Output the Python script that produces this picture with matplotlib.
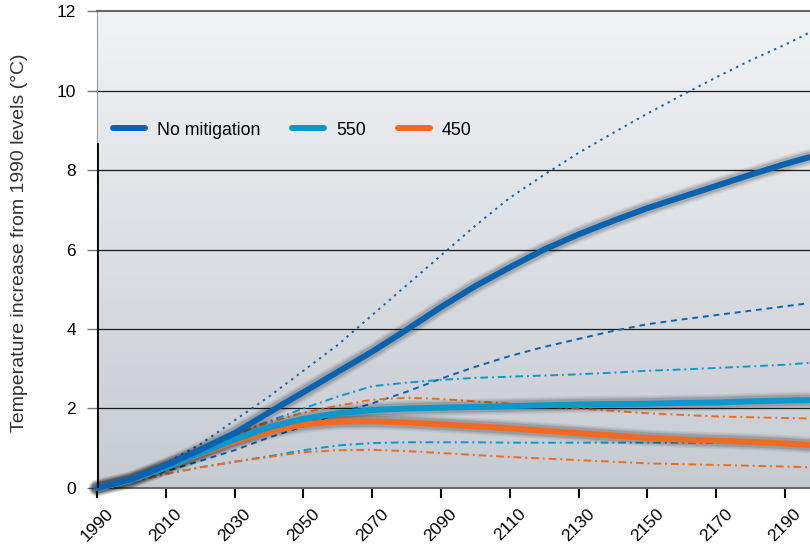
import matplotlib.pyplot as plt
import numpy as np
from matplotlib.colors import LinearSegmentedColormap

plt.rcParams['font.family'] = ['Liberation Sans', 'DejaVu Sans']

years = [1990, 2000, 2010, 2020, 2030, 2040, 2050, 2060, 2070, 2080, 2090,
         2100, 2110, 2120, 2130, 2140, 2150, 2160, 2170, 2180, 2190, 2197]

# No mitigation: central and range
nomit = [0, 0.22, 0.57, 0.96, 1.38, 1.9, 2.41, 2.92, 3.43, 3.98, 4.55,
         5.08, 5.55, 6.0, 6.38, 6.72, 7.04, 7.32, 7.6, 7.88, 8.15, 8.32]
nomit_hi = [0, 0.25, 0.62, 1.1, 1.7, 2.3, 2.95, 3.6, 4.35, 5.1, 5.85,
            6.6, 7.3, 7.88, 8.43, 8.93, 9.42, 9.88, 10.33, 10.76, 11.15, 11.45]
nomit_lo = [0, 0.18, 0.42, 0.68, 0.95, 1.27, 1.55, 1.87, 2.13, 2.42, 2.75,
            3.05, 3.32, 3.55, 3.75, 3.95, 4.12, 4.24, 4.35, 4.46, 4.57, 4.65]

# 550 ppm stabilisation
s550 = [0, 0.2, 0.52, 0.88, 1.22, 1.53, 1.74, 1.88, 1.96, 2.0, 2.02,
        2.04, 2.06, 2.08, 2.1, 2.11, 2.12, 2.14, 2.15, 2.18, 2.2, 2.21]
s550_hi = [0, 0.2, 0.55, 0.95, 1.35, 1.68, 2.0, 2.3, 2.56, 2.65, 2.72,
           2.77, 2.8, 2.83, 2.86, 2.9, 2.95, 2.98, 3.02, 3.06, 3.1, 3.15]
s550_lo = [0, 0.15, 0.35, 0.52, 0.66, 0.8, 0.95, 1.07, 1.13, 1.15, 1.15,
           1.15, 1.14, 1.14, 1.14, 1.14, 1.14, 1.14, 1.13, 1.13, 1.13, 1.13]

# 450 ppm stabilisation
s450 = [0, 0.2, 0.52, 0.86, 1.17, 1.42, 1.6, 1.67, 1.68, 1.65, 1.6,
        1.55, 1.5, 1.44, 1.38, 1.32, 1.26, 1.22, 1.19, 1.16, 1.12, 1.08]
s450_hi = [0, 0.2, 0.55, 0.95, 1.35, 1.65, 1.9, 2.07, 2.22, 2.27, 2.24,
           2.18, 2.12, 2.05, 2.0, 1.94, 1.88, 1.84, 1.8, 1.78, 1.76, 1.75]
s450_lo = [0, 0.15, 0.35, 0.52, 0.66, 0.78, 0.9, 0.95, 0.96, 0.93, 0.88,
           0.83, 0.78, 0.74, 0.7, 0.66, 0.62, 0.6, 0.58, 0.56, 0.54, 0.52]

dark_blue = '#0a63b0'
light_blue = '#0b98cc'
orange = '#f06a22'

fig = plt.figure(figsize=(8.1, 5.45), dpi=100)
ax = fig.add_axes([0.1198, 0.1046, 0.8802, 0.8752])

# grey gradient background
grad = np.linspace(0, 1, 256).reshape(-1, 1)
bg = LinearSegmentedColormap.from_list('bg', ['#c6cbd2', '#f1f2f4'])
ax.imshow(grad, extent=[1990, 2197.3, 0, 12], origin='lower', aspect='auto',
          cmap=bg, zorder=0)

for yv in [2, 4, 6, 8, 10]:
    ax.axhline(yv, color='#1a1a1a', lw=0.9, zorder=1)

# range lines
ax.plot(years, nomit_hi, color=dark_blue, lw=1.4, ls=(0, (1.2, 2.4)), zorder=3)
ax.plot(years, nomit_lo, color=dark_blue, lw=1.4, ls=(0, (3, 2.5)), zorder=3)
ax.plot(years, s550_hi, color=light_blue, lw=1.4, ls=(0, (4, 2, 1, 2)), zorder=3)
ax.plot(years, s550_lo, color=light_blue, lw=1.4, ls=(0, (4, 2, 1, 2)), zorder=3)
ax.plot(years, s450_hi, color=orange, lw=1.4, ls=(0, (4, 2, 1, 2)), zorder=3)
ax.plot(years, s450_lo, color=orange, lw=1.4, ls=(0, (4, 2, 1, 2)), zorder=3)


def thick(y, color, label):
    # soft shadow under the main line
    for w, a in [(12, 0.06), (10, 0.08), (8, 0.12)]:
        ax.plot(years, y, color='black', lw=w, alpha=a, solid_capstyle='round',
                solid_joinstyle='round', zorder=4, clip_on=False)
    ax.plot(years, y, color=color, lw=4.3, solid_capstyle='round',
            solid_joinstyle='round', zorder=5, clip_on=False, label=label)


thick(s450, orange, '450')
thick(s550, light_blue, '550')
thick(nomit, dark_blue, 'No mitigation')

ax.set_xlim(1990, 2197.3)
ax.set_ylim(0, 12)
ax.set_xticks(range(1990, 2191, 20))
ax.set_yticks(range(0, 13, 2))
ax.tick_params(axis='x', length=7, width=1.5, color='black', labelsize=12.5,
               labelrotation=45, pad=6)
ax.tick_params(axis='y', length=7, width=1, color='#777777', labelsize=12.5,
               pad=8)

ax.spines['right'].set_visible(False)
ax.spines['top'].set_color('#666666')
ax.spines['top'].set_linewidth(1.5)
ax.spines['bottom'].set_color('#666666')
ax.spines['bottom'].set_linewidth(1.5)
ax.spines['left'].set_color('#999999')
ax.axvline(1990, ymin=0, ymax=8.65 / 12, color='black', lw=2, zorder=6)

ax.set_ylabel('Temperature increase from 1990 levels (°C)', fontsize=14,
              color='#333333')
ax.yaxis.set_label_coords(-0.097, 0.515)

handles, labels = ax.get_legend_handles_labels()
order = [2, 1, 0]
ax.legend([handles[i] for i in order], [labels[i] for i in order], ncol=3,
          frameon=False, fontsize=12.8, loc='center left', borderpad=0,
          borderaxespad=0, bbox_to_anchor=(0.0224, 0.7505), handlelength=1.8,
          handletextpad=0.67, columnspacing=1.8)

fig.savefig('out.png', dpi=100)
